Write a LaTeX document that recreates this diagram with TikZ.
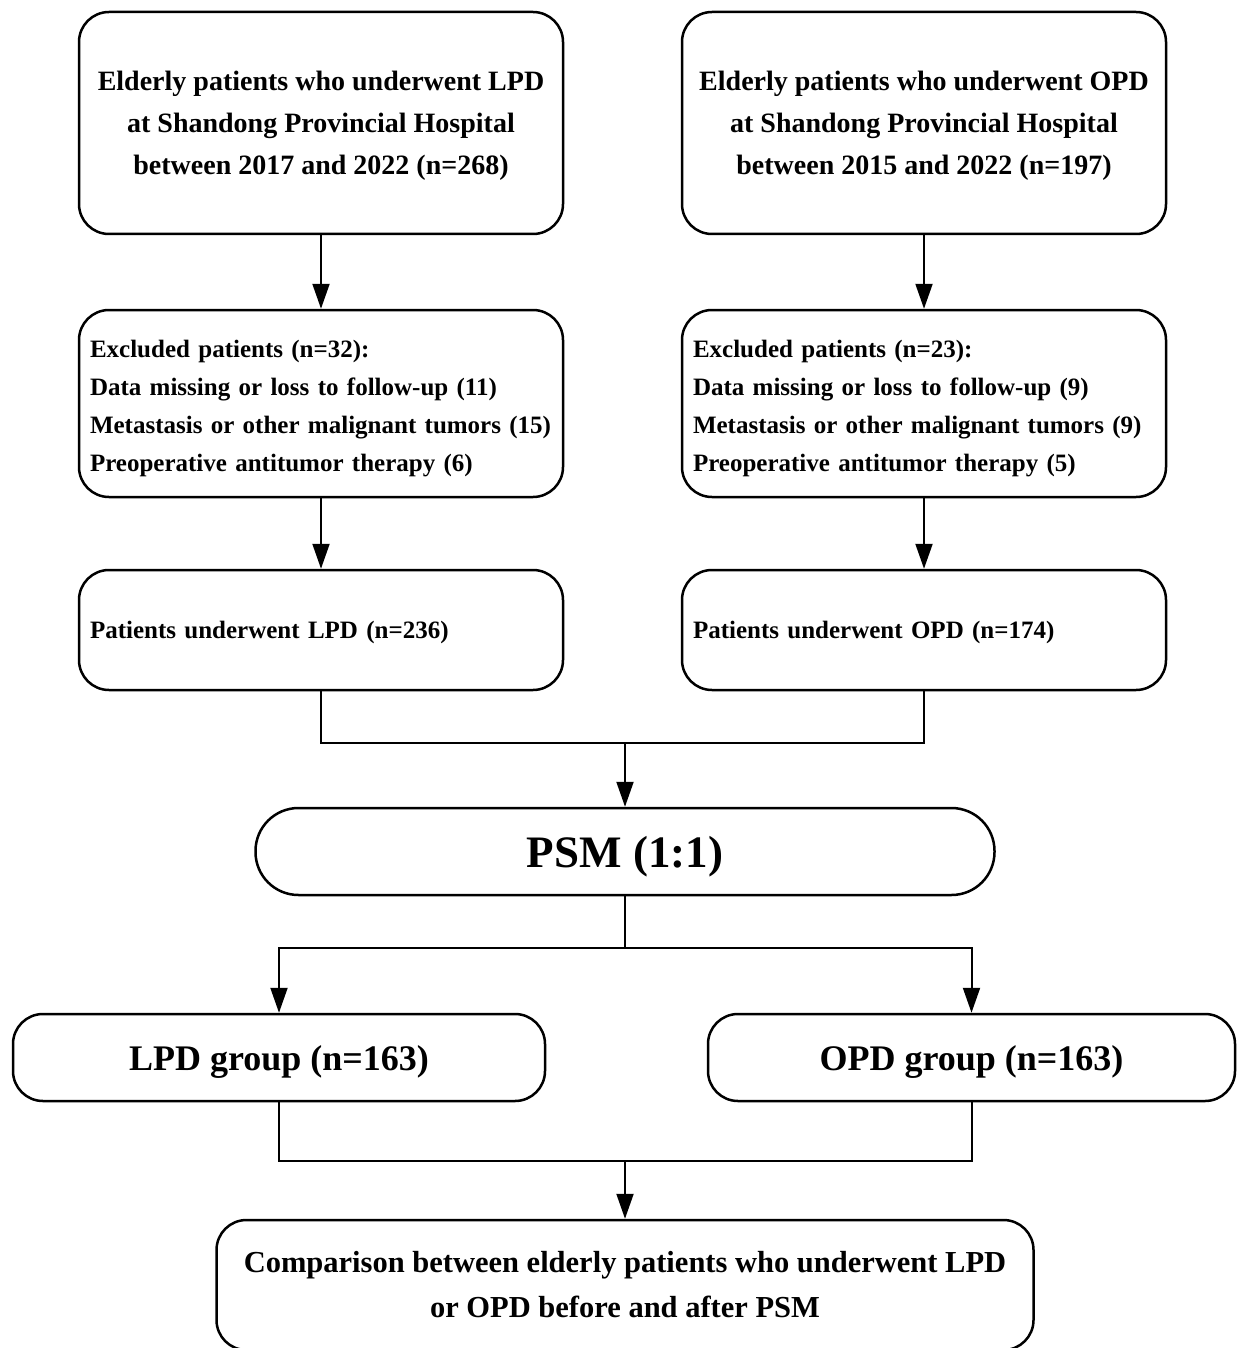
\documentclass[tikz,border=0pt]{standalone}
\usepackage{fontspec}
\setmainfont{Liberation Serif}
\usetikzlibrary{arrows.meta}
\begin{document}
\begin{tikzpicture}[x=1pt,y=-1pt,
  box/.style={draw,line width=2.5pt,rounded corners=30pt,inner sep=0pt},
  lbox/.style={box,align=left,text width=462pt,inner xsep=11pt,minimum height=#1,
    font=\bfseries\fontsize{25}{38}\selectfont},
  arr/.style={line width=2pt,-{Triangle[length=25pt,width=17pt]}},
  ln/.style={line width=2pt}]
\useasboundingbox (0,0) rectangle (1237,1348);
\fill[white] (0,0) rectangle (1237,1348);
% top boxes
\node[box,minimum width=484pt,minimum height=222pt,align=center,text depth=-4pt,
  font=\bfseries\fontsize{28}{42}\selectfont] (lpd0) at (321,123)
  {Elderly patients who underwent LPD\\at Shandong Provincial Hospital\\between 2017 and 2022 (n=268)};
\node[box,minimum width=484pt,minimum height=222pt,align=center,text depth=-4pt,
  font=\bfseries\fontsize{28}{42}\selectfont] (opd0) at (924,123)
  {Elderly patients who underwent OPD\\at Shandong Provincial Hospital\\between 2015 and 2022 (n=197)};
% excluded
\node[lbox=187pt,text depth=109.5pt] (lpdx) at (321,403.5)
  {Excluded patients (n=32):\\Data missing or loss to follow-up (11)\\Metastasis or other malignant tumors (15)\\Preoperative antitumor therapy (6)};
\node[lbox=187pt,text depth=109.5pt] (opdx) at (924,403.5)
  {Excluded patients (n=23):\\Data missing or loss to follow-up (9)\\Metastasis or other malignant tumors (9)\\Preoperative antitumor therapy (5)};
% underwent
\node[lbox=120pt,text depth=0pt] (lpd1) at (321,630) {Patients underwent LPD (n=236)};
\node[lbox=120pt,text depth=0pt] (opd1) at (924,630) {Patients underwent OPD (n=174)};
% PSM
\node[box,rounded corners=43pt,minimum width=739pt,minimum height=87pt,text depth=0pt,
  font=\bfseries\fontsize{45}{50}\selectfont] (psm) at (625,851.5) {PSM (1:1)};
% groups
\node[box,minimum width=532pt,minimum height=87pt,text depth=0pt,
  font=\bfseries\fontsize{36}{40}\selectfont] (lg) at (279,1057.5) {LPD group (n=163)};
\node[box,minimum width=527pt,minimum height=87pt,text depth=0pt,
  font=\bfseries\fontsize{36}{40}\selectfont] (og) at (971.5,1057.5) {OPD group (n=163)};
% comparison
\node[box,minimum width=817pt,minimum height=130pt,align=center,
  font=\bfseries\fontsize{30.5}{45}\selectfont] (cmp) at (625,1285)
  {Comparison between elderly patients who underwent LPD\\or OPD before and after PSM};
% connectors
\draw[arr] (lpd0.south) -- (lpdx.north);
\draw[arr] (opd0.south) -- (opdx.north);
\draw[arr] (lpdx.south) -- (lpd1.north);
\draw[arr] (opdx.south) -- (opd1.north);
\coordinate (m1) at (625,743);
\draw[ln] (lpd1.south) |- (m1) -| (opd1.south);
\draw[arr] (m1) -- (psm.north);
\coordinate (s1) at (625,948);
\draw[ln] (psm.south) -- (s1);
\draw[arr] (s1) -| (lg.north);
\draw[arr] (s1) -| (og.north);
\coordinate (m2) at (625,1161);
\draw[ln] (lg.south) |- (m2) -| (og.south);
\draw[arr] (m2) -- (cmp.north);
\end{tikzpicture}
\end{document}
